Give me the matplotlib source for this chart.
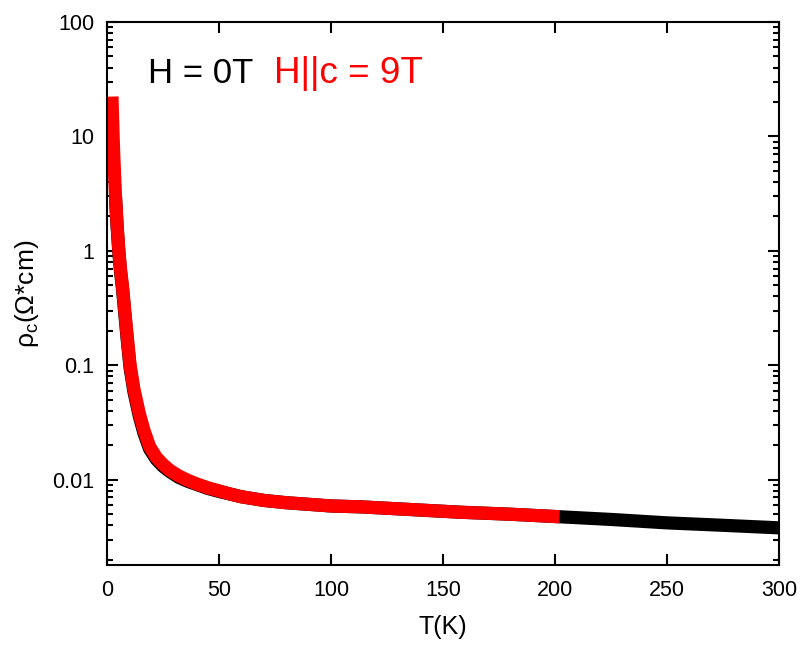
import numpy as np
import matplotlib
matplotlib.use("Agg")
import matplotlib.pyplot as plt
from matplotlib.ticker import LogLocator, NullFormatter, FixedLocator

plt.rcParams["font.family"] = ["Liberation Sans", "DejaVu Sans"]
plt.rcParams["mathtext.fontset"] = "custom"
plt.rcParams["mathtext.rm"] = "Liberation Sans"
plt.rcParams["mathtext.default"] = "regular"

# c-axis resistivity, H||c = 9T (measured up to ~200 K)
T_9T = [2.2, 2.6, 3.0, 3.4, 3.8, 4.5, 5.3, 6.0, 6.9, 8.0, 9.0, 10.3, 12.0,
        14.4, 16.5, 19, 22, 25, 28, 32, 36, 40, 45, 50, 55, 60, 70, 80, 90,
        100, 113, 135, 158, 180, 202]
rho_9T = [22.3, 12.0, 7.0, 4.5, 3.0, 1.7, 1.0, 0.70, 0.49, 0.29, 0.18, 0.10,
          0.062, 0.038, 0.027, 0.0195, 0.0157, 0.0136, 0.0121, 0.0108, 0.0099,
          0.0092, 0.0085, 0.0080, 0.0075, 0.0071, 0.0066, 0.0063, 0.0061,
          0.0059, 0.0058, 0.0055, 0.0052, 0.0050, 0.00475]

# zero field, up to 300 K
T_0T = [3.8, 4.5, 5.3, 6.0, 6.9, 8.0, 9.0, 10.3, 12.0, 14.4, 16.5, 19, 22,
        25, 28, 32, 36, 40, 45, 50, 55, 60, 70, 80, 90, 100, 113, 135, 158,
        180, 202, 225, 250, 275, 300]
rho_0T = [2.9, 1.63, 0.96, 0.67, 0.47, 0.275, 0.17, 0.095, 0.059, 0.036,
          0.0255, 0.0186, 0.0151, 0.0131, 0.0118, 0.0105, 0.0097, 0.0091,
          0.0084, 0.0079, 0.0075, 0.0071, 0.0066, 0.0063, 0.0061, 0.0059,
          0.0058, 0.0055, 0.0052, 0.0050, 0.00475, 0.0045, 0.0042, 0.0040,
          0.0038]

fig = plt.figure(figsize=(8.01, 6.5), dpi=100)
ax = fig.add_axes([0.1336, 0.1308, 0.8389, 0.8354])

ax.plot(T_0T, rho_0T, color="black", lw=9.5, solid_capstyle="butt")
ax.plot(T_9T, rho_9T, color="red", lw=9.5, solid_capstyle="butt")

ax.set_yscale("log")
ax.set_xlim(0, 300)
ax.set_ylim(0.0018, 100)
ax.xaxis.set_major_locator(FixedLocator([0, 50, 100, 150, 200, 250, 300]))
ax.yaxis.set_major_locator(FixedLocator([0.01, 0.1, 1, 10, 100]))
ax.set_yticklabels(["0.01", "0.1", "1", "10", "100"])
ax.yaxis.set_minor_locator(LogLocator(base=10, subs=np.arange(2, 10)))
ax.yaxis.set_minor_formatter(NullFormatter())

ax.tick_params(which="both", direction="in", top=True, right=True,
               width=1.5, labelsize=15.5)
ax.tick_params(which="major", length=8, pad=9)
ax.tick_params(axis="x", which="major", pad=11)
ax.tick_params(which="minor", length=4.5)
for sp in ax.spines.values():
    sp.set_linewidth(1.5)

ax.set_xlabel("T(K)", fontsize=18, labelpad=10)
ax.set_ylabel("ρ$_c$(Ω*cm)", fontsize=19, labelpad=8)

ax.text(0.061, 0.888, "H = 0T", transform=ax.transAxes, fontsize=25,
        color="black", va="baseline", ha="left")
ax.text(0.249, 0.888, "H||c = 9T", transform=ax.transAxes, fontsize=26.5,
        color="red", va="baseline", ha="left")

fig.savefig("out.png", dpi=100)
